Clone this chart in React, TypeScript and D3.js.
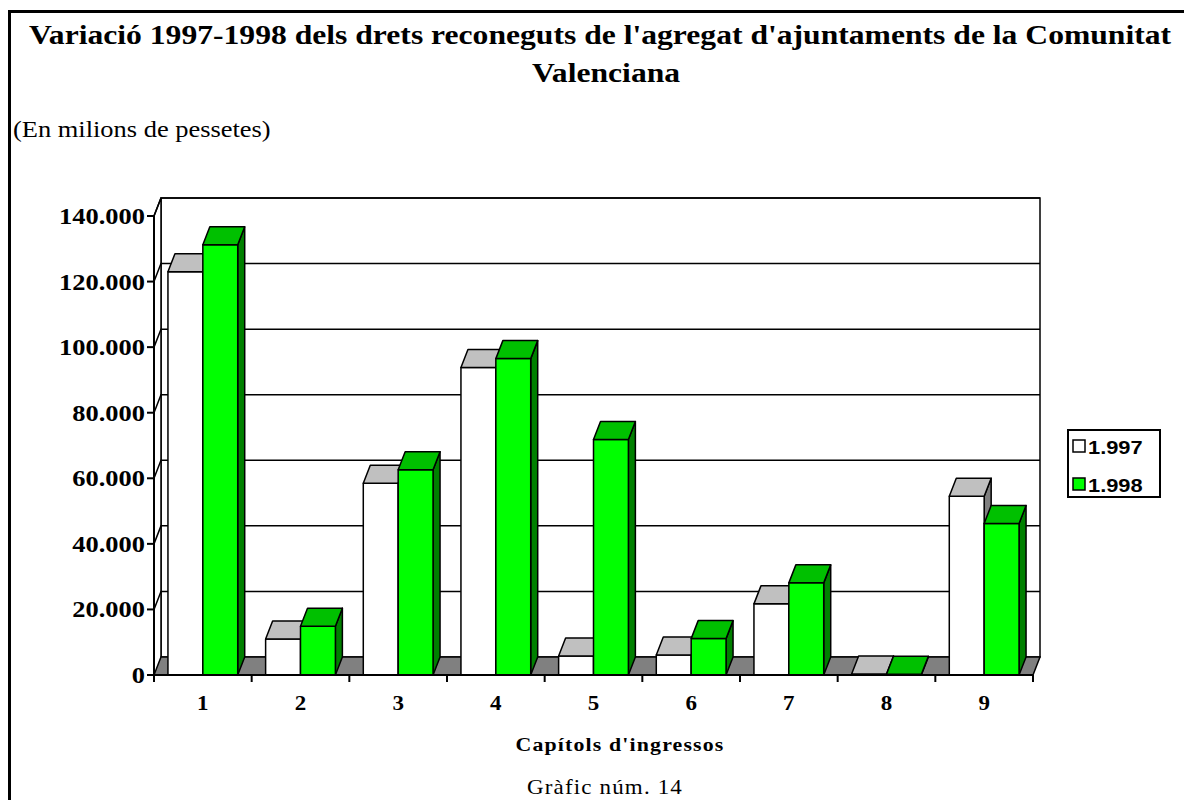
import * as d3 from "d3";

const categories = ["1", "2", "3", "4", "5", "6", "7", "8", "9"];
const seriesNames = ["1.997", "1.998"];
const values1997 = [123000, 11000, 58500, 93800, 5800, 6100, 21700, 300, 54500];
const values1998 = [131200, 14900, 62600, 96500, 71800, 11100, 28100, 200, 46200];
const yTicks = [0, 20000, 40000, 60000, 80000, 100000, 120000, 140000];

const width = 1184;
const height = 800;
const left = 154;
const right = 1033;
const top = 216;
const bottom = 675;
// 3D depth offset
const dx = 7;
const dy = -18;
const SX = 1.15; // the source is stretched horizontally

const colors = [
  { front: "#ffffff", top: "#c0c0c0", side: "#808080" },
  { front: "#00ff00", top: "#00c000", side: "#008000" },
];

const serif = "'Liberation Serif', 'Times New Roman', serif";
const sans = "'Liberation Sans', Arial, sans-serif";

const locale = d3.formatLocale({ decimal: ",", thousands: ".", grouping: [3], currency: ["", ""] });
const fmt = locale.format(",.0f");

const Txt = ({ x, y, size, bold, anchor = "middle", family = serif, spacing = 0, children }: any) => (
  <text
    transform={`translate(${x},${y}) scale(${SX},1)`}
    fontFamily={family}
    fontSize={size}
    fontWeight={bold ? "bold" : "normal"}
    textAnchor={anchor}
    letterSpacing={spacing}
    fill="#000"
  >
    {children}
  </text>
);

const App = () => {
  const x0 = d3.scaleBand<string>().domain(categories).range([left, right]).paddingInner(0);
  const x1 = d3
    .scaleBand<string>()
    .domain(seriesNames)
    .range([0, x0.bandwidth()])
    .paddingInner(0)
    .paddingOuter(0.4);
  const y = d3.scaleLinear().domain([0, 140000]).range([bottom, top]);
  const series = [values1997, values1998];
  const y0 = y(0);

  const bars: any[] = [];
  categories.forEach((c, i) => {
    series.forEach((vals, s) => {
      const bx = (x0(c) ?? 0) + (x1(seriesNames[s]) ?? 0);
      const w = x1.bandwidth();
      const yv = y(vals[i]);
      const col = colors[s];
      bars.push(
        <g key={`${c}-${s}`} stroke="#000" strokeWidth={1.5} strokeLinejoin="round">
          <path
            d={`M${bx + w},${yv} L${bx + w + dx},${yv + dy} L${bx + w + dx},${y0 + dy} L${bx + w},${y0} Z`}
            fill={col.side}
          />
          <rect x={bx} y={yv} width={w} height={y0 - yv} fill={col.front} />
          <path
            d={`M${bx},${yv} L${bx + dx},${yv + dy} L${bx + w + dx},${yv + dy} L${bx + w},${yv} Z`}
            fill={col.top}
          />
        </g>
      );
    });
  });

  return (
    <svg
      width={width}
      height={height}
      viewBox={`0 0 ${width} ${height}`}
      style={{ position: "absolute", left: 0, top: 0, background: "#fff" }}
    >
      <path d={`M9.5,${height} V11.5 H${width}`} fill="none" stroke="#000" strokeWidth={3} />

      <Txt x={600} y={44} size={27.5} bold>
        Variació 1997-1998 dels drets reconeguts de l'agregat d'ajuntaments de la Comunitat
      </Txt>
      <Txt x={606} y={82} size={27.5} bold>
        Valenciana
      </Txt>
      <Txt x={13} y={137} size={23} anchor="start">
        (En milions de pessetes)
      </Txt>

      {/* back wall */}
      <rect
        x={left + dx}
        y={top + dy}
        width={right - left}
        height={bottom - top}
        fill="#fff"
        stroke="#000"
        strokeWidth={1.5}
      />
      {/* left side wall */}
      <path
        d={`M${left},${bottom} L${left},${top} L${left + dx},${top + dy} L${left + dx},${bottom + dy}`}
        fill="#fff"
        stroke="#000"
        strokeWidth={1.5}
      />
      {/* gridlines */}
      {yTicks
        .filter((t) => t > 0)
        .map((t) => (
          <path
            key={t}
            d={`M${left},${y(t)} L${left + dx},${y(t) + dy} L${right + dx},${y(t) + dy}`}
            fill="none"
            stroke="#000"
            strokeWidth={1.5}
          />
        ))}
      {/* floor */}
      <path
        d={`M${left},${bottom} L${left + dx},${bottom + dy} L${right + dx},${bottom + dy} L${right},${bottom} Z`}
        fill="#808080"
        stroke="#000"
        strokeWidth={1.5}
      />

      {bars}

      {/* axes */}
      <line x1={left} x2={left} y1={top} y2={bottom} stroke="#000" strokeWidth={2} />
      <line x1={left} x2={right} y1={bottom} y2={bottom} stroke="#000" strokeWidth={2} />
      {yTicks.map((t) => (
        <g key={t}>
          <line x1={left - 7} x2={left} y1={y(t)} y2={y(t)} stroke="#000" strokeWidth={2} />
          <Txt x={145} y={y(t) + 8} size={23} bold anchor="end">
            {fmt(t)}
          </Txt>
        </g>
      ))}
      {[...categories.map((c) => x0(c) ?? 0), right].map((xv, i) => (
        <line key={i} x1={xv} x2={xv} y1={bottom} y2={bottom + 7} stroke="#000" strokeWidth={2} />
      ))}
      {categories.map((c) => (
        <Txt key={c} x={(x0(c) ?? 0) + x0.bandwidth() / 2} y={710} size={20} bold>
          {c}
        </Txt>
      ))}
      <Txt x={620} y={751} size={19} bold spacing={1}>
        Capítols d'ingressos
      </Txt>
      <Txt x={605} y={794} size={20} spacing={1}>
        Gràfic núm. 14
      </Txt>

      {/* legend */}
      <rect x={1068} y={430} width={92} height={67} fill="#fff" stroke="#000" strokeWidth={2} />
      {seriesNames.map((n, i) => (
        <g key={n}>
          <rect
            x={1073}
            y={440 + i * 38}
            width={12}
            height={12}
            fill={colors[i].front}
            stroke="#000"
            strokeWidth={1.5}
          />
          <Txt x={1088} y={454 + i * 38} size={19} bold anchor="start" family={sans}>
            {n}
          </Txt>
        </g>
      ))}
    </svg>
  );
};

export default App;
